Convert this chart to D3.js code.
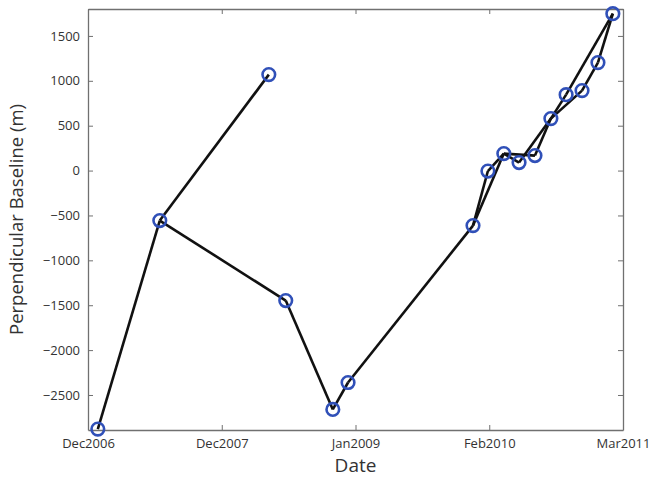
<!DOCTYPE html>
<html>
<head>
<meta charset="utf-8">
<script src="https://cdn.jsdelivr.net/npm/d3@7"></script>
<style>
    body { margin: 0; background: #fff; }
    text { font-family: "Open Sans", "Noto Sans", sans-serif; fill: #333; }
    .frame path, .frame line { stroke: #707070; }
</style>
</head>
<body>
<svg id="chart" width="649" height="480"></svg>
<script>
    // acquisition dates and perpendicular baselines (m)
    var acqDates = ["2006-12-30", "2007-07-01", "2008-05-18", "2008-07-07", "2008-11-23", "2009-01-07",
        "2010-01-11", "2010-02-24", "2010-04-12", "2010-05-27", "2010-07-13", "2010-08-29",
        "2010-10-13", "2010-11-29", "2011-01-15", "2011-02-28"];
    var baselines = [-2880, -557, 1069, -1448, -2661, -2361, -613, -5, 189, 89, 167, 579, 846, 891, 1203, 1748];
    // interferogram pairs (indices into the acquisitions)
    var pairs = [[0, 1], [1, 2], [1, 3], [3, 4], [4, 5], [5, 6], [6, 7], [6, 8], [7, 8], [8, 9], [8, 10],
        [9, 11], [10, 11], [11, 12], [12, 15], [11, 13], [13, 14], [14, 15]];
    var xTickDates = ["2006-12-01", "2007-12-31", "2009-01-29", "2010-02-28", "2011-03-30"];
    var yTicks = [-2500, -2000, -1500, -1000, -500, 0, 500, 1000, 1500];
    var yDomain = [-2890, 1800];

    var parse = d3.utcParse("%Y-%m-%d");
    var fmt = d3.utcFormat("%b%Y");
    var plot = { left: 88, right: 623, top: 9, bottom: 430 };

    var x = d3.scaleUtc()
        .domain([parse(xTickDates[0]), parse(xTickDates[xTickDates.length - 1])])
        .range([plot.left, plot.right])
    ;
    var y = d3.scaleLinear()
        .domain(yDomain)
        .range([plot.bottom, plot.top])
    ;
    var svg = d3.select("#chart");
    var tickVals = xTickDates.map(parse);

    svg.append("g")
        .attr("class", "frame")
        .attr("transform", "translate(0," + plot.bottom + ")")
        .call(d3.axisBottom(x).tickValues(tickVals).tickFormat(fmt).tickSizeInner(-5).tickSizeOuter(0).tickPadding(9))
        .call(function (g) { g.selectAll("text").attr("font-size", "13px").attr("fill", "#333"); })
    ;
    svg.append("g")
        .attr("class", "frame")
        .attr("transform", "translate(0," + plot.top + ")")
        .call(d3.axisTop(x).tickValues(tickVals).tickFormat("").tickSizeInner(-5).tickSizeOuter(0))
    ;
    svg.append("g")
        .attr("class", "frame")
        .attr("transform", "translate(" + plot.left + ",0)")
        .call(d3.axisLeft(y).tickValues(yTicks).tickFormat(d3.format("d")).tickSizeInner(-5).tickSizeOuter(0).tickPadding(8))
        .call(function (g) {
            g.selectAll("text").attr("font-size", "13px").attr("fill", "#333")
                .text(function (d) { return d < 0 ? "\u2212" + (-d) : d; });
        })
    ;
    svg.append("g")
        .attr("class", "frame")
        .attr("transform", "translate(" + plot.right + ",0)")
        .call(d3.axisRight(y).tickValues(yTicks).tickFormat("").tickSizeInner(-5).tickSizeOuter(0))
    ;
    svg.selectAll(".frame .domain").attr("stroke", "#707070").attr("stroke-width", 1.3);

    svg.append("g")
        .selectAll("line")
        .data(pairs)
        .enter().append("line")
        .attr("x1", function (d) { return x(parse(acqDates[d[0]])); })
        .attr("y1", function (d) { return y(baselines[d[0]]); })
        .attr("x2", function (d) { return x(parse(acqDates[d[1]])); })
        .attr("y2", function (d) { return y(baselines[d[1]]); })
        .attr("stroke", "#111")
        .attr("stroke-width", 2.6)
    ;
    svg.append("g")
        .selectAll("circle")
        .data(acqDates)
        .enter().append("circle")
        .attr("cx", function (d) { return x(parse(d)); })
        .attr("cy", function (d, i) { return y(baselines[i]); })
        .attr("r", 6.3)
        .attr("fill", "none")
        .attr("stroke", "#3050b8")
        .attr("stroke-width", 2.6)
    ;

    svg.append("text")
        .attr("x", (plot.left + plot.right) / 2)
        .attr("y", 472)
        .attr("text-anchor", "middle")
        .attr("font-size", "19px")
        .text("Date")
    ;
    svg.append("text")
        .attr("transform", "translate(23," + ((plot.top + plot.bottom) / 2) + ") rotate(-90)")
        .attr("text-anchor", "middle")
        .attr("font-size", "18.5px")
        .text("Perpendicular Baseline (m)")
    ;
</script>
</body>
</html>
